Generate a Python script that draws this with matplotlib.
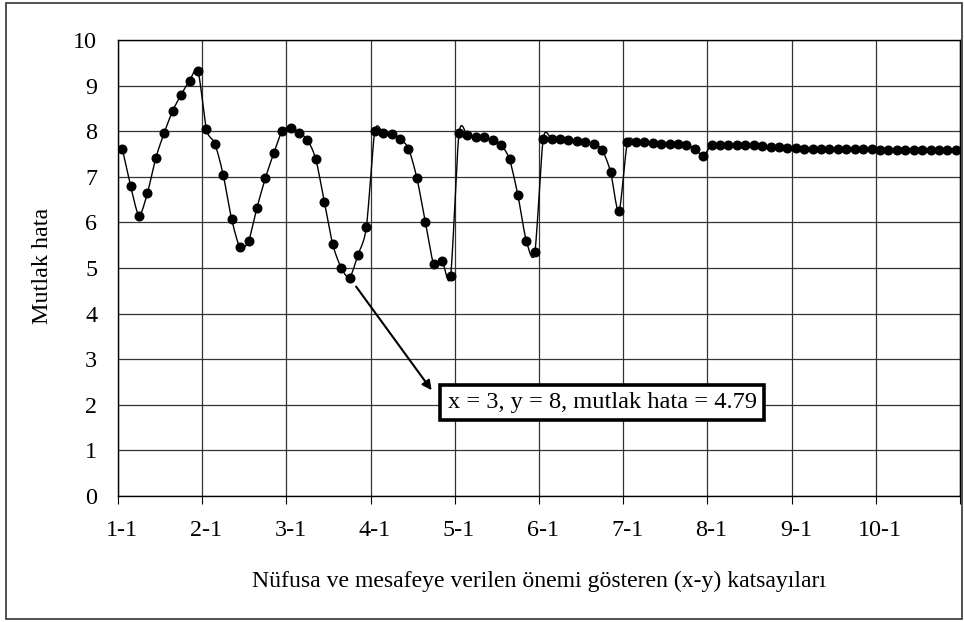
import numpy as np
import matplotlib
matplotlib.use("Agg")
import matplotlib.pyplot as plt
from matplotlib.patches import Rectangle

# ---- data -------------------------------------------------------------
x_coefs = list(range(1, 11))
y_coefs = list(range(1, 11))
categories = [f"{a}-{b}" for a in x_coefs for b in y_coefs]

g1 = [7.62, 6.80, 6.15, 6.65, 7.42, 7.97, 8.45, 8.80, 9.11, 9.32]
g2 = [8.04, 7.73, 7.04, 6.07, 5.45, 5.59, 6.32, 6.97, 7.52, 8.00]
g3 = [8.08, 7.97, 7.81, 7.38, 6.45, 5.52, 5.01, 4.79, 5.29, 5.90]
g4 = [8.00, 7.97, 7.94, 7.83, 7.62, 6.97, 6.01, 5.08, 5.15, 4.83]
g5 = [7.95, 7.91, 7.88, 7.87, 7.80, 7.70, 7.38, 6.59, 5.59, 5.34]
g6 = [7.83, 7.83, 7.82, 7.80, 7.79, 7.76, 7.73, 7.59, 7.11, 6.24]
g7 = [7.76, 7.76, 7.76, 7.74, 7.73, 7.73, 7.73, 7.69, 7.62, 7.46]
g8 = [7.70, 7.70, 7.70, 7.70, 7.70, 7.69, 7.67, 7.66, 7.65, 7.63]
g9 = [7.63, 7.62, 7.62, 7.62, 7.62, 7.62, 7.62, 7.62, 7.62, 7.61]
g10 = [7.59, 7.58, 7.58, 7.58, 7.58, 7.58, 7.58, 7.58, 7.58, 7.58]
values = g1 + g2 + g3 + g4 + g5 + g6 + g7 + g8 + g9 + g10

tick_labels = [f"{a}-1" for a in x_coefs]
y_ticks = list(range(0, 11))

best_label = "3-8"
best_value = 4.79
annotation_text = "x = 3, y = 8, mutlak hata = 4.79"

# ---- figure -----------------------------------------------------------
plt.rcParams['font.family'] = ['Liberation Serif', 'DejaVu Serif']
FS = 17.4

W, H = 964, 622
fig = plt.figure(figsize=(W / 100, H / 100), dpi=100)
ax = fig.add_axes([118 / W, 1 - 496 / H, (960 - 118) / W, (496 - 40) / H])

xs = np.arange(len(values), dtype=float)
ys = np.array(values, dtype=float)

# smoothed line through the data points (cardinal spline, reduced tension)
def cardinal(px, py, n=12, k=0.8):
    P = np.column_stack([px, py])
    Pe = np.vstack([P[0], P, P[-1]])
    T = k * 0.5 * (Pe[2:] - Pe[:-2])
    out = []
    t = np.linspace(0, 1, n, endpoint=False)[:, None]
    h00 = 2 * t**3 - 3 * t**2 + 1
    h10 = t**3 - 2 * t**2 + t
    h01 = -2 * t**3 + 3 * t**2
    h11 = t**3 - t**2
    for i in range(len(P) - 1):
        out.append(h00 * P[i] + h10 * T[i] + h01 * P[i + 1] + h11 * T[i + 1])
    out.append(P[-1][None, :])
    out = np.vstack(out)
    return out[:, 0], out[:, 1]

sx, sy = cardinal(xs, ys)
ax.plot(sx, sy, color='black', lw=1.0, zorder=3)
ax.plot(xs, ys, linestyle='none', marker='o', ms=6.2, color='black', zorder=4)

ax.set_xlim(-0.5, len(values) - 0.5)
ax.set_ylim(0, 10)

# x axis: boundaries every 10 categories carry tick marks + gridlines
major = np.arange(-0.5, len(values), 10)
ax.set_xticks(major)
ax.set_xticklabels([])
ax.set_xticks(np.arange(0, len(values), 10), minor=True)
ax.set_xticklabels(tick_labels, minor=True)
ax.tick_params(axis='x', which='major', direction='out', length=5.5, width=0.8, color='black')
ax.tick_params(axis='x', which='minor', length=0, pad=17, labelsize=FS)

ax.set_yticks(y_ticks)
ax.set_yticklabels([str(v) for v in y_ticks])
ax.tick_params(axis='y', length=0, pad=15, labelsize=FS)

ax.grid(True, which='major', axis='both', color='#333333', lw=0.9, zorder=0)
ax.set_axisbelow(True)
for s in ax.spines.values():
    s.set_color('black')
    s.set_linewidth(1.0)

# annotation
idx = categories.index(best_label)
ax.annotate('', xy=(36.75, 2.32), xytext=(idx, best_value),
            arrowprops=dict(arrowstyle='-|>', color='black', lw=1.5,
                            shrinkA=8, shrinkB=0, mutation_scale=14),
            zorder=5)
ax.text(57.0, 2.05, annotation_text, ha='center', va='center', fontsize=17.6,
        zorder=6,
        bbox=dict(boxstyle='square,pad=0.3', facecolor='white',
                  edgecolor='black', linewidth=2.6))

# axis titles
fig.text(539 / W, 1 - 581 / H,
         "Nüfusa ve mesafeye verilen önemi gösteren (x-y) katsayıları",
         ha='center', va='center', fontsize=17.1)
fig.text(43 / W, 1 - 266 / H, "Mutlak hata", rotation=90,
         ha='center', va='center', fontsize=FS)

# outer chart border
fig.patches.append(Rectangle((6 / W, 3 / H), (962 - 6) / W, (619 - 3) / H,
                             transform=fig.transFigure, fill=False,
                             edgecolor='#333333', lw=1.2))

fig.savefig('out.png', dpi=100)
